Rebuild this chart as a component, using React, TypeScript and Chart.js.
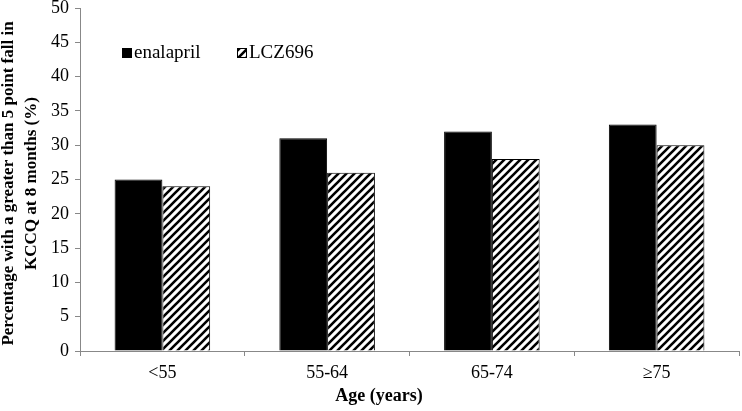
import React, { useEffect, useRef } from "react";
import { Chart, registerables } from "chart.js";

Chart.register(...registerables);

const categories = ["<55", "55-64", "65-74", "\u226575"];
const enalapril = [25, 31, 32, 33];
const lcz696 = [24, 26, 28, 30];
const seriesNames = ["enalapril", "LCZ696"];
const yTitleLines = ["Percentage with a greater than 5 point fall in", "KCCQ at 8 months (%)"];
const xTitle = "Age (years)";

const FONT = "'Liberation Serif', 'Times New Roman', serif";
const AXIS = "#888888";

function makeHatch(): CanvasPattern | string {
  const s = 8;
  const c = document.createElement("canvas");
  c.width = s;
  c.height = s;
  const g = c.getContext("2d");
  if (!g) return "#fff";
  g.fillStyle = "#ffffff";
  g.fillRect(0, 0, s, s);
  g.strokeStyle = "#000000";
  g.lineWidth = 2.6;
  g.beginPath();
  g.moveTo(0, s);
  g.lineTo(s, 0);
  g.moveTo(-2, 2);
  g.lineTo(2, -2);
  g.moveTo(s - 2, s + 2);
  g.lineTo(s + 2, s - 2);
  g.stroke();
  const p = g.createPattern(c, "repeat");
  return p || "#fff";
}

export default function App() {
  const ref = useRef<HTMLCanvasElement>(null);
  useEffect(() => {
    document.body.style.margin = "0";
    const canvas = ref.current;
    if (!canvas) return;
    const hatch = makeHatch();

    const overlay = {
      id: "overlay",
      afterDraw(chart: any) {
        const ctx = chart.ctx;
        const area = chart.chartArea;
        ctx.save();
        // legend
        ctx.font = `19px ${FONT}`;
        ctx.textBaseline = "middle";
        ctx.textAlign = "left";
        ctx.fillStyle = "#000";
        const ly = 53;
        ctx.fillRect(122, ly - 5, 10, 10);
        ctx.fillText(seriesNames[0], 134, ly);
        ctx.fillStyle = hatch as any;
        ctx.fillRect(237, ly - 5, 10, 10);
        ctx.strokeStyle = "#000";
        ctx.lineWidth = 1;
        ctx.strokeRect(237.5, ly - 4.5, 9, 9);
        ctx.fillStyle = "#000";
        ctx.fillText(seriesNames[1], 249, ly);
        // x title
        ctx.font = `bold 18px ${FONT}`;
        ctx.textAlign = "center";
        ctx.fillText(xTitle, 379, 396);
        // y title
        ctx.font = `bold 17px ${FONT}`;
        ctx.translate(0, (area.top + area.bottom) / 2 + 4);
        ctx.rotate(-Math.PI / 2);
        ctx.fillText(yTitleLines[0], 0, 9);
        ctx.fillText(yTitleLines[1], 0, 32);
        ctx.restore();
      },
    };

    const chart = new Chart(canvas, {
      type: "bar",
      data: {
        labels: categories,
        datasets: [
          {
            label: seriesNames[0],
            data: enalapril,
            backgroundColor: "#000000",
            borderColor: "#000000",
            borderWidth: 1,
          },
          {
            label: seriesNames[1],
            data: lcz696,
            backgroundColor: hatch as any,
            borderColor: "#000000",
            borderWidth: 1,
          },
        ],
      },
      options: {
        responsive: false,
        animation: false,
        layout: { padding: { left: 0, right: 3, top: 8, bottom: 0 } },
        datasets: {
          bar: { categoryPercentage: 0.58, barPercentage: 1.0 },
        },
        plugins: {
          legend: { display: false },
          tooltip: { enabled: false },
        },
        scales: {
          x: {
            grid: {
              display: true,
              drawOnChartArea: false,
              offset: true,
              color: AXIS,
              tickLength: 5,
            },
            border: { color: AXIS, width: 1 },
            ticks: {
              color: "#000",
              font: { family: FONT, size: 18 },
              padding: 6,
            },
            afterFit: (s: any) => {
              s.height = 60;
              s.paddingLeft = 0;
              s.paddingRight = 0;
            },
          },
          y: {
            min: 0,
            max: 50,
            ticks: {
              stepSize: 5,
              color: "#000",
              font: { family: FONT, size: 18 },
              padding: 6,
            },
            grid: {
              display: true,
              drawOnChartArea: false,
              color: AXIS,
              tickLength: 5,
            },
            border: { color: AXIS, width: 1 },
            afterFit: (s: any) => {
              s.width = 80;
              s.paddingTop = 0;
              s.paddingBottom = 0;
            },
          },
        },
      },
      plugins: [overlay],
    });
    return () => chart.destroy();
  }, []);
  return (
    <div style={{ width: 742, height: 411 }}>
      <canvas ref={ref} width={742} height={411} />
    </div>
  );
}
